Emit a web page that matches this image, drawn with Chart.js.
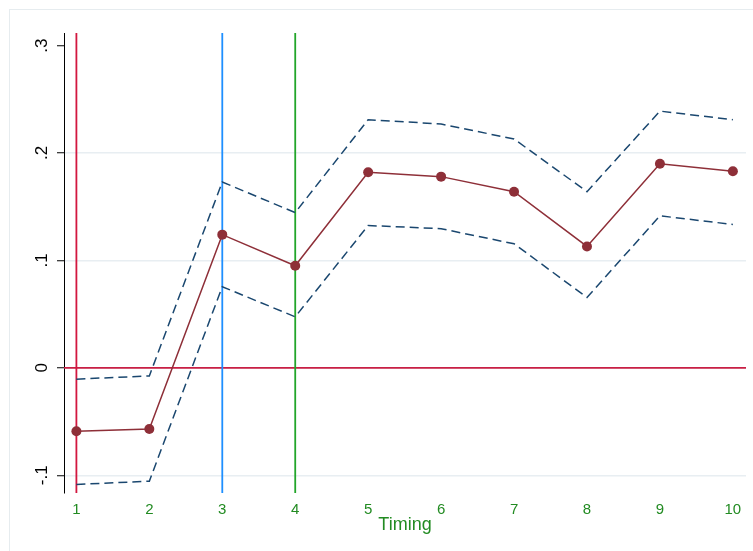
<!DOCTYPE html>
<html>
<head>
<meta charset="utf-8">
<script src="https://cdn.jsdelivr.net/npm/chart.js@4/dist/chart.umd.min.js"></script>
<style>
  html, body { margin: 0; padding: 0; background: #fff; overflow: hidden; }
  #wrap { position: relative; width: 753px; height: 551px; }
  #frame { position: absolute; left: 9px; top: 9px; width: 800px; height: 600px; border: 1px solid #e6ecef; }
  #chart { position: absolute; left: 0; top: 0; }
</style>
</head>
<body>
<div id="wrap">
  <div id="frame"></div>
  <canvas id="chart" width="753" height="551"></canvas>
</div>
<script>
// values
const timing = [1, 2, 3, 4, 5, 6, 7, 8, 9, 10];
const estimate = [-0.059, -0.057, 0.124, 0.095, 0.182, 0.178, 0.164, 0.113, 0.190, 0.183];
const upperCI = [-0.0105, -0.0075, 0.173, 0.1445, 0.231, 0.227, 0.213, 0.164, 0.239, 0.231];
const lowerCI = [-0.1085, -0.1055, 0.0755, 0.0475, 0.1325, 0.1295, 0.1155, 0.0655, 0.1415, 0.1335];

const yTicks = [-0.1, 0, 0.1, 0.2, 0.3];
const yTickLabels = ["-.1", "0", ".1", ".2", ".3"];

// reference lines
const refX = [1, 3, 4];
const refXColors = ["#d2173f", "#1e8fff", "#22a52a"];
const refY = [0];
const refYColors = ["#c91f45"];

const green = "#228b22";

function points(ys) {
  return timing.map((t, i) => ({ x: t, y: ys[i] }));
}

// draws the xline / yline reference lines under the series
const refLines = {
  id: 'refLines',
  beforeDatasetsDraw(chart) {
    const ctx = chart.ctx;
    const area = chart.chartArea;
    const xs = chart.scales.x, ys = chart.scales.y;
    ctx.save();
    ctx.lineWidth = 1.8;
    refY.forEach((v, i) => {
      const py = ys.getPixelForValue(v);
      ctx.strokeStyle = refYColors[i];
      ctx.beginPath();
      ctx.moveTo(area.left, py);
      ctx.lineTo(area.right, py);
      ctx.stroke();
    });
    refX.forEach((v, i) => {
      const px = xs.getPixelForValue(v);
      ctx.strokeStyle = refXColors[i];
      ctx.beginPath();
      ctx.moveTo(px, area.top);
      ctx.lineTo(px, area.bottom);
      ctx.stroke();
    });
    ctx.restore();
  }
};

new Chart(document.getElementById('chart'), {
  type: 'line',
  data: {
    datasets: [
      {
        data: points(estimate),
        borderColor: '#8e2f38',
        backgroundColor: '#8e2f38',
        borderWidth: 1.5,
        pointRadius: 5,
        pointBorderWidth: 0,
        tension: 0
      },
      {
        data: points(upperCI),
        borderColor: '#1a476f',
        borderWidth: 1.5,
        borderDash: [9, 5],
        pointRadius: 0,
        tension: 0
      },
      {
        data: points(lowerCI),
        borderColor: '#1a476f',
        borderWidth: 1.5,
        borderDash: [9, 5],
        pointRadius: 0,
        tension: 0
      }
    ]
  },
  options: {
    responsive: false,
    animation: false,
    devicePixelRatio: 1,
    layout: { padding: { left: 20, top: 33, right: 7, bottom: 15 } },
    plugins: {
      legend: { display: false },
      tooltip: { enabled: false }
    },
    scales: {
      x: {
        type: 'linear',
        min: 0.83,
        max: 10.18,
        grid: { display: false },
        border: { display: false },
        afterBuildTicks: (scale) => { scale.ticks = timing.map(v => ({ value: v })); },
        afterFit: (scale) => { scale.height = 43; },
        ticks: {
          color: green,
          padding: 0,
          maxRotation: 0,
          font: { family: 'Liberation Sans', size: 15 }
        },
        title: {
          display: true,
          text: 'Timing',
          color: green,
          padding: 0,
          font: { family: 'Liberation Sans', size: 18 }
        }
      },
      y: {
        min: -0.1165,
        max: 0.3117,
        afterBuildTicks: (scale) => { scale.ticks = yTicks.map(v => ({ value: v })); },
        afterFit: (scale) => { scale.width = 44; },
        grid: {
          color: (c) => (c.tick && c.tick.value === 0.3) ? 'rgba(0,0,0,0)' : '#e8eef2',
          lineWidth: 1.5,
          tickColor: '#000',
          tickWidth: 1,
          tickLength: 7
        },
        border: { color: '#000', width: 1 },
        ticks: {
          color: '#000',
          padding: 5,
          minRotation: 90,
          maxRotation: 90,
          crossAlign: 'center',
          font: { family: 'Liberation Sans', size: 17 },
          callback: (v) => {
            const i = yTicks.findIndex(t => Math.abs(t - v) < 1e-9);
            return i >= 0 ? yTickLabels[i] : '';
          }
        }
      }
    }
  },
  plugins: [refLines]
});
</script>
</body>
</html>
